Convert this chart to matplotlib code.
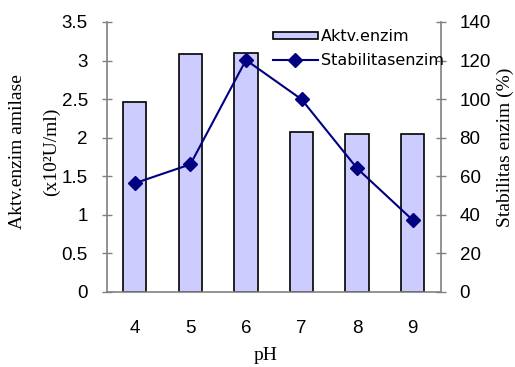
import matplotlib
matplotlib.use("Agg")
import matplotlib.pyplot as plt

ph = ["4", "5", "6", "7", "8", "9"]
aktivitas = [2.46, 3.08, 3.10, 2.08, 2.05, 2.05]
stabilitas = [56.4, 66.2, 120.3, 99.9, 64.1, 37.3]

label_bar = "Aktv.enzim"
label_line = "Stabilitasenzim"

W, H = 515, 367
fig = plt.figure(figsize=(W / 100, H / 100), dpi=100)
L, R, B, T = 107, 440.5, 292, 22
ax = fig.add_axes([L / W, 1 - B / H, (R - L) / W, (B - T) / H])
ax2 = ax.twinx()

sans = "Liberation Sans"
serif = "Liberation Serif"
grey = "#808080"

x = list(range(len(ph)))
bars = ax.bar(x, aktivitas, width=0.42, color="#CCCCFF", edgecolor="black",
              linewidth=1.2, zorder=2)
line, = ax2.plot(x, stabilitas, color="#000080", linewidth=1.5, marker="D",
                 markersize=7, markerfacecolor="#000080", markeredgecolor="#000080")

ax.set_xlim(-0.5, 5.5)
ax.set_ylim(0, 3.5)
ax2.set_ylim(0, 140)
ax.set_yticks([0, 0.5, 1, 1.5, 2, 2.5, 3, 3.5])
ax.set_yticklabels(["0", "0.5", "1", "1.5", "2", "2.5", "3", "3.5"])
ax2.set_yticks([0, 20, 40, 60, 80, 100, 120, 140])
ax.set_xticks(x)
ax.set_xticklabels(ph)

for a in (ax, ax2):
    a.spines["top"].set_visible(False)
    for s in ("left", "right", "bottom"):
        a.spines[s].set_color(grey)
        a.spines[s].set_linewidth(1.2)
ax.spines["right"].set_visible(False)
ax2.spines["left"].set_visible(False)
ax2.spines["bottom"].set_visible(False)

ax.tick_params(axis="y", direction="inout", length=7.5, width=1.0, color=grey,
               labelsize=13.5, pad=10)
ax2.tick_params(axis="y", direction="inout", length=7.5, width=1.0, color=grey,
                labelsize=13.5, pad=10)
ax.tick_params(axis="x", length=0, labelsize=13.5, pad=20)
for lab in ax.get_xticklabels() + ax.get_yticklabels() + ax2.get_yticklabels():
    lab.set_fontfamily(sans)

fig.text(18 / W, 1 - 152 / H, "Aktv.enzim amilase", rotation=90, ha="center",
         va="center", family=serif, fontsize=14)
fig.text(51 / W, 1 - 152 / H, "(x10²U/ml)", rotation=90, ha="center",
         va="center", family=serif, fontsize=14)
fig.text(505 / W, 1 - 147 / H, "Stabilitas enzim (%)", rotation=90, ha="center",
         va="center", family=serif, fontsize=14)
fig.text(266 / W, 1 - 356 / H, "pH", ha="center", va="center", family=serif,
         fontsize=14)

leg = ax2.legend([bars, line], [label_bar, label_line], loc="upper left",
                 bbox_to_anchor=(273 / W, 1 - 29 / H), bbox_transform=fig.transFigure,
                 frameon=False, borderpad=0, borderaxespad=0, handlelength=2.8,
                 handleheight=0.3, handletextpad=0.2, labelspacing=0.55,
                 prop={"family": "DejaVu Sans", "size": 11.5})

fig.savefig("out.png", dpi=100)
